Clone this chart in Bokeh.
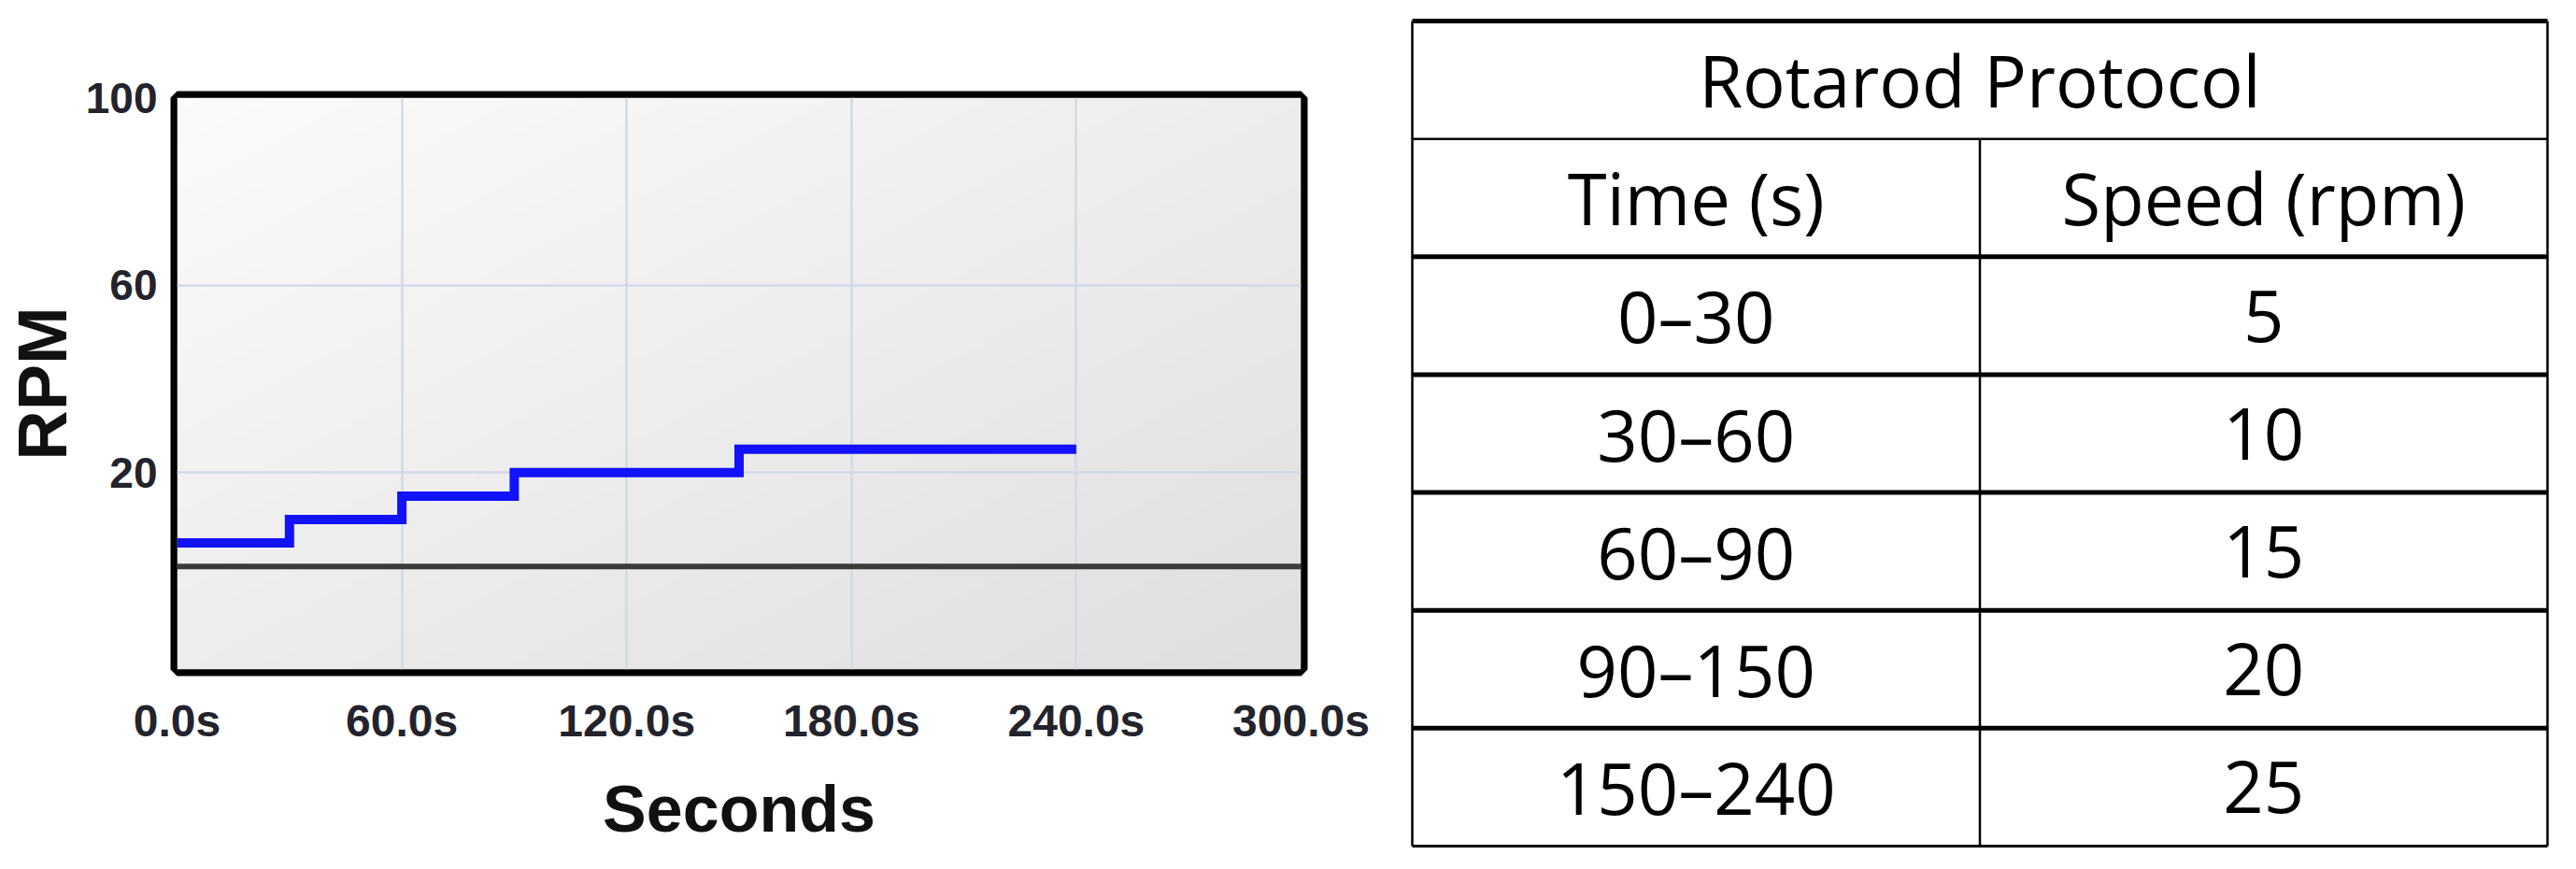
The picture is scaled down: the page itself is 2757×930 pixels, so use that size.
import numpy as np
from bokeh.plotting import figure
from bokeh.models import Range1d, FixedTicker, Span
from bokeh.layouts import row, column
from bokeh.embed import file_html
from bokeh.resources import INLINE
from bokeh.core.properties import value

# ---------------- data ----------------
seg_start = [0, 30, 60, 90, 150]
seg_end = [30, 60, 90, 150, 240]
speed = [5, 10, 15, 20, 25]

x_ticks = [0, 60, 120, 180, 240, 300]
x_tick_labels = ["0.0s", "60.0s", "120.0s", "180.0s", "240.0s", "300.0s"]
y_ticks = [20, 60, 100]
y_tick_labels = ["20", "60", "100"]
x_min, x_max = 0, 300
y_min, y_max = -22, 100

table_title = "Rotarod Protocol"
table_header = ["Time (s)", "Speed (rpm)"]
time_ranges = [f"{s}\u2013{e}" for s, e in zip(seg_start, seg_end)]
speed_values = [str(v) for v in speed]

# ---------------- chart ----------------
p = figure(width=1492, height=912,
           x_range=Range1d(x_min, x_max), y_range=Range1d(y_min, y_max),
           output_backend="svg", toolbar_location=None,
           min_border_left=177, min_border_right=100,
           min_border_top=104, min_border_bottom=196)

# soft gradient background
n = 64
gx, gy = np.meshgrid(np.linspace(0, 1, n), np.linspace(0, 1, n))
down = 1 - gy
tt = (gx + down) / 2
g = (251 - 28 * tt).astype(np.uint8)
img = np.empty((n, n), dtype=np.uint32)
view = img.view(dtype=np.uint8).reshape((n, n, 4))
view[:, :, 0] = g
view[:, :, 1] = g
view[:, :, 2] = g
view[:, :, 3] = 255
p.background_fill_color = "#eeeeee"
bg = p.image_rgba(image=[img], x=x_min, y=y_min, dw=x_max - x_min, dh=y_max - y_min)
bg.level = "image"

# grid
p.xgrid.ticker = FixedTicker(ticks=x_ticks)
p.ygrid.ticker = FixedTicker(ticks=y_ticks)
p.grid.grid_line_color = "#d3d8ea"
p.grid.grid_line_width = 2.5

# zero line
p.add_layout(Span(location=0, dimension="width", line_color="#3a3a3a", line_width=6))

# step line built from protocol segments
xs, ys = [], []
for s, e, v in zip(seg_start, seg_end, speed):
    xs += [s, e]
    ys += [v, v]
p.line(xs, ys, line_color="#1212ff", line_width=10, line_join="miter")

# frame
p.outline_line_color = "black"
p.outline_line_width = 14

# axes
for ax in (p.xaxis, p.yaxis):
    ax.axis_line_color = None
    ax.major_tick_line_color = None
    ax.minor_tick_line_color = None
    ax.major_label_text_font = "Liberation Sans"
    ax.major_label_text_font_style = "bold"
    ax.major_label_text_color = "#23232d"
    ax.axis_label_text_font = "Liberation Sans"
    ax.axis_label_text_font_style = "bold"
    ax.axis_label_text_color = "#111111"

p.xaxis.ticker = FixedTicker(ticks=x_ticks)
p.xaxis.major_label_overrides = dict(zip(x_ticks, x_tick_labels))
p.xaxis.major_label_text_font_size = "48px"
p.xaxis.major_label_standoff = 22
p.xaxis.axis_label = "Seconds"
p.xaxis.axis_label_text_font_size = "70px"
p.xaxis.axis_label_standoff = 26

p.yaxis.ticker = FixedTicker(ticks=y_ticks)
p.yaxis.major_label_overrides = dict(zip(y_ticks, y_tick_labels))
p.yaxis.major_label_text_font_size = "46px"
p.yaxis.major_label_standoff = 15
p.yaxis.axis_label = "RPM"
p.yaxis.axis_label_text_font_size = "74px"
p.yaxis.axis_label_standoff = 2

# ---------------- table ----------------
n_rows = 2 + len(time_ranges)
row_px = 883 / n_rows
tw, th = 1249, 912
t = figure(width=tw, height=th,
           x_range=Range1d(-19 / 1215, 1 + 15 / 1215),
           y_range=Range1d(n_rows + 7 / row_px, -22 / row_px),
           output_backend="svg", toolbar_location=None,
           x_axis_location=None, y_axis_location=None,
           min_border_left=0, min_border_right=0, min_border_top=0, min_border_bottom=0)
t.grid.visible = False
t.outline_line_color = None
t.background_fill_color = "white"

for fig in (p, t):
    try:
        fig.frame_align = False
    except Exception:
        pass

h_pos = list(range(n_rows + 1))
h_width = [5, 2.5] + [5] * (n_rows - 2) + [3]
t.segment(x0=[0] * len(h_pos), x1=[1] * len(h_pos), y0=h_pos, y1=h_pos,
          line_color="black", line_width=h_width)
t.segment(x0=[0, 1, 0.5], x1=[0, 1, 0.5], y0=[0, 0, 1], y1=[n_rows] * 3,
          line_color="black", line_width=2.5)

txt_x = [0.5, 0.25, 0.75]
txt_y = [0.5, 1.5, 1.5]
txt = [table_title] + table_header
for i, (tr, sv) in enumerate(zip(time_ranges, speed_values)):
    txt_x += [0.25, 0.75]
    txt_y += [2.5 + i, 2.5 + i]
    txt += [tr, sv]
t.text(x=txt_x, y=txt_y, text=txt, text_font=value("Open Sans"),
       text_font_size=value("76px"), text_align="center", text_baseline="middle",
       text_color="black")

layout = row(p, column(t))
open("out.html", "w").write(file_html(layout, INLINE))
